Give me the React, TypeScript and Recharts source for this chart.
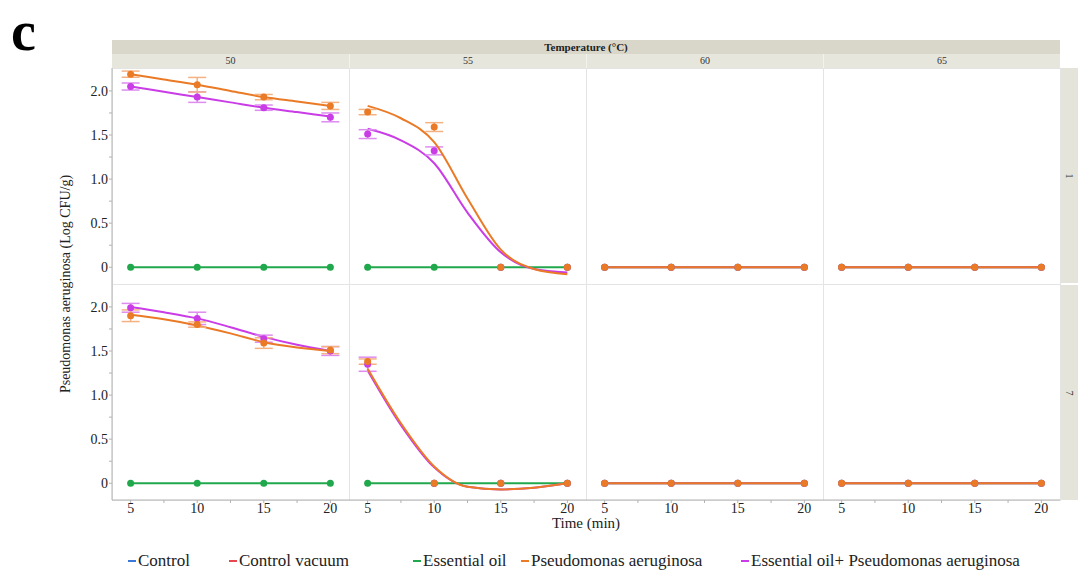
import React from 'react';
import { ComposedChart, Line, Scatter, ErrorBar, XAxis, YAxis } from 'recharts';

const temps = ['50', '55', '60', '65'];
const storageDays = ['1', '7'];
const times = [5, 10, 15, 20];
const fitTimes = [5, 7.5, 10, 12.5, 15, 17.5, 20];
const xTicks = [5, 7.5, 10, 12.5, 15, 17.5, 20];
const yTicks = [0, 0.25, 0.5, 0.75, 1, 1.25, 1.5, 1.75, 2];

// observed means and error, one row per temperature (50, 55, 60, 65)
const paMeanDay1 = [[2.19, 2.07, 1.93, 1.83], [1.76, 1.59, 0, 0], [0, 0, 0, 0], [0, 0, 0, 0]];
const paErrDay1 = [[0.035, 0.083, 0.03, 0.04], [0.03, 0.05, 0, 0], [0, 0, 0, 0], [0, 0, 0, 0]];
const eoPaMeanDay1 = [[2.05, 1.93, 1.81, 1.7], [1.51, 1.32, 0, 0], [0, 0, 0, 0], [0, 0, 0, 0]];
const eoPaErrDay1 = [[0.04, 0.06, 0.03, 0.05], [0.05, 0.045, 0, 0], [0, 0, 0, 0], [0, 0, 0, 0]];

const paMeanDay7 = [[1.9, 1.8, 1.59, 1.51], [1.38, 0, 0, 0], [0, 0, 0, 0], [0, 0, 0, 0]];
const paErrDay7 = [[0.066, 0.03, 0.06, 0.04], [0.03, 0, 0, 0], [0, 0, 0, 0], [0, 0, 0, 0]];
const eoPaMeanDay7 = [[1.99, 1.87, 1.64, 1.5], [1.35, 0, 0, 0], [0, 0, 0, 0], [0, 0, 0, 0]];
const eoPaErrDay7 = [[0.05, 0.07, 0.04, 0.05], [0.08, 0, 0, 0], [0, 0, 0, 0], [0, 0, 0, 0]];

const eoMean = [0, 0, 0, 0];

// fitted curves read at fitTimes
const paFitDay1 = [
  [2.19, 2.13, 2.07, 2.0, 1.93, 1.88, 1.83],
  [1.83, 1.69, 1.42, 0.78, 0.2, -0.02, -0.08],
  [0, 0, 0, 0, 0, 0, 0],
  [0, 0, 0, 0, 0, 0, 0],
];
const eoPaFitDay1 = [
  [2.05, 1.99, 1.93, 1.87, 1.81, 1.76, 1.71],
  [1.57, 1.44, 1.18, 0.62, 0.17, -0.02, -0.06],
  [0, 0, 0, 0, 0, 0, 0],
  [0, 0, 0, 0, 0, 0, 0],
];
const paFitDay7 = [
  [1.91, 1.86, 1.79, 1.7, 1.6, 1.54, 1.5],
  [1.3, 0.68, 0.19, -0.04, -0.07, -0.05, 0],
  [0, 0, 0, 0, 0, 0, 0],
  [0, 0, 0, 0, 0, 0, 0],
];
const eoPaFitDay7 = [
  [2.0, 1.94, 1.87, 1.77, 1.66, 1.57, 1.5],
  [1.28, 0.66, 0.18, -0.04, -0.07, -0.05, 0],
  [0, 0, 0, 0, 0, 0, 0],
  [0, 0, 0, 0, 0, 0, 0],
];
const eoFit = [0, 0, 0, 0, 0, 0, 0];

const legendNames = ['Control', 'Control vacuum', 'Essential oil', 'Pseudomonas aeruginosa', 'Essential oil+ Pseudomonas aeruginosa'];
const legendColors = ['#3b78d8', '#e8474f', '#20a84c', '#ea7a26', '#c93ce6'];
const legendLeft = [128, 229, 413, 521, 741];

const ORANGE = '#ea7a26';
const ORANGE_LIGHT = '#f4b283';
const PURPLE = '#c93ce6';
const PURPLE_LIGHT = '#de8cf0';
const GREEN = '#20a84c';
const GREEN_LIGHT = '#8fd6a5';

const SERIF = '"Liberation Serif", "Times New Roman", serif';
const PLOT_LEFT = 112;
const PLOT_TOP = 68;
const PANEL_W = 237;
const PANEL_H = 216;
const Y_AXIS_W = 44;
const X_AXIS_H = 30;
const X_DOMAIN = [3.6, 21.4];
const Y_DOMAIN = [-0.19, 2.26];

const dot = (color: string) => (p: any) => <circle cx={p.cx} cy={p.cy} r={3.5} fill={color} />;

function Panel({ row, col }: { row: number; col: number }) {
  const showY = col === 0;
  const showX = row === 1;
  const w = PANEL_W + (showY ? Y_AXIS_W : 0);
  const h = PANEL_H + (showX ? X_AXIS_H : 0);
  const left = PLOT_LEFT + col * PANEL_W - (showY ? Y_AXIS_W : 0);
  const top = PLOT_TOP + row * PANEL_H;

  const paMean = (row === 0 ? paMeanDay1 : paMeanDay7)[col];
  const paErr = (row === 0 ? paErrDay1 : paErrDay7)[col];
  const eoPaMean = (row === 0 ? eoPaMeanDay1 : eoPaMeanDay7)[col];
  const eoPaErr = (row === 0 ? eoPaErrDay1 : eoPaErrDay7)[col];
  const paFit = (row === 0 ? paFitDay1 : paFitDay7)[col];
  const eoPaFit = (row === 0 ? eoPaFitDay1 : eoPaFitDay7)[col];

  const pts = (m: number[], e: number[]) => times.map((t, i) => ({ x: t, y: m[i], err: e[i] }));
  const fit = (f: number[]) => fitTimes.map((t, i) => ({ x: t, y: f[i] }));

  const tickStyle = { fontFamily: SERIF, fontSize: 14, fill: '#222' };

  return (
    <div style={{ position: 'absolute', left, top }}>
      <ComposedChart width={w} height={h} margin={{ top: 0, right: 0, bottom: 0, left: 0 }}>
        <XAxis
          type="number"
          dataKey="x"
          domain={X_DOMAIN}
          allowDataOverflow
          ticks={xTicks}
          interval={0}
          hide={!showX}
          height={X_AXIS_H}
          tickFormatter={(v) => (Number.isInteger(v) ? String(v) : '')}
          tick={tickStyle}
          tickSize={3}
          tickMargin={0}
          axisLine={{ stroke: '#b3b3b3' }}
          tickLine={{ stroke: '#b3b3b3' }}
        />
        <YAxis
          type="number"
          dataKey="y"
          domain={Y_DOMAIN}
          allowDataOverflow
          ticks={yTicks}
          interval={0}
          hide={!showY}
          width={Y_AXIS_W}
          tickFormatter={(v) => (v === 0 ? '0' : v * 4 % 2 === 0 ? v.toFixed(1) : '')}
          tick={tickStyle}
          tickSize={3}
          tickMargin={1}
          axisLine={{ stroke: '#b3b3b3' }}
          tickLine={{ stroke: '#b3b3b3' }}
        />
        <Line data={fit(eoFit)} dataKey="y" type="monotone" stroke={GREEN} strokeWidth={2} dot={false} isAnimationActive={false} />
        <Scatter data={pts(eoMean, eoMean)} dataKey="y" shape={dot(GREEN)} isAnimationActive={false}>
          <ErrorBar dataKey="err" direction="y" width={9} stroke={GREEN_LIGHT} strokeWidth={1.2} />
        </Scatter>
        <Line data={fit(eoPaFit)} dataKey="y" type="monotone" stroke={PURPLE} strokeWidth={2} dot={false} isAnimationActive={false} />
        <Scatter data={pts(eoPaMean, eoPaErr)} dataKey="y" shape={dot(PURPLE)} isAnimationActive={false}>
          <ErrorBar dataKey="err" direction="y" width={9} stroke={PURPLE_LIGHT} strokeWidth={1.5} />
        </Scatter>
        <Line data={fit(paFit)} dataKey="y" type="monotone" stroke={ORANGE} strokeWidth={2} dot={false} isAnimationActive={false} />
        <Scatter data={pts(paMean, paErr)} dataKey="y" shape={dot(ORANGE)} isAnimationActive={false}>
          <ErrorBar dataKey="err" direction="y" width={9} stroke={ORANGE_LIGHT} strokeWidth={1.5} />
        </Scatter>
      </ComposedChart>
    </div>
  );
}

export default function App() {
  const plotW = PANEL_W * temps.length;
  const plotH = PANEL_H * storageDays.length;
  return (
    <div style={{ position: 'absolute', left: 0, top: 0, width: 1078, height: 572, background: '#fff', overflow: 'hidden', fontFamily: SERIF, color: '#222' }}>
      <div style={{ position: 'absolute', left: 11, top: 0, fontSize: 56, fontWeight: 'bold', lineHeight: '62px', color: '#000' }}>c</div>

      {/* strip headers */}
      <div style={{ position: 'absolute', left: PLOT_LEFT, top: 40, width: plotW, height: 14, background: '#d9d7c9', fontSize: 11, fontWeight: 'bold', textAlign: 'center', lineHeight: '14px' }}>
        Temperature (°C)
      </div>
      {temps.map((t, i) => (
        <div
          key={t}
          style={{
            position: 'absolute',
            left: PLOT_LEFT + i * PANEL_W,
            top: 54,
            width: PANEL_W,
            height: 14,
            background: '#e7e6dd',
            borderLeft: i ? '1px solid #f3f2ec' : 'none',
            boxSizing: 'border-box',
            fontSize: 10,
            textAlign: 'center',
            lineHeight: '14px',
            color: '#333',
          }}
        >
          {t}
        </div>
      ))}
      {storageDays.map((d, i) => (
        <div
          key={d}
          style={{
            position: 'absolute',
            left: PLOT_LEFT + plotW + 1,
            top: PLOT_TOP + i * PANEL_H + (i ? 1 : 0),
            width: 17,
            height: PANEL_H - 1,
            background: '#e5e4db',
          }}
        >
          <div style={{ position: 'absolute', left: 0, top: PANEL_H / 2 - 8, width: 16, height: 16, fontSize: 10, lineHeight: '16px', textAlign: 'center', transform: 'rotate(90deg)', color: '#333' }}>
            {d}
          </div>
        </div>
      ))}

      {/* panel frames */}
      {storageDays.map((d, r) =>
        temps.map((t, c) => (
          <div
            key={d + t}
            style={{
              position: 'absolute',
              left: PLOT_LEFT + c * PANEL_W,
              top: PLOT_TOP + r * PANEL_H,
              width: PANEL_W + 1,
              height: PANEL_H + 1,
              border: '1px solid #e4e4e4',
              boxSizing: 'border-box',
            }}
          />
        ))
      )}

      {storageDays.map((d, r) => temps.map((t, c) => <Panel key={'p' + d + t} row={r} col={c} />))}

      <div style={{ position: 'absolute', left: 66, top: PLOT_TOP + plotH / 2, width: 0, height: 0 }}>
        <div style={{ position: 'absolute', left: -200, top: -9, width: 400, textAlign: 'center', fontSize: 14, lineHeight: '18px', transform: 'rotate(-90deg)', whiteSpace: 'nowrap' }}>
          Pseudomonas aeruginosa (Log CFU/g)
        </div>
      </div>
      <div style={{ position: 'absolute', left: PLOT_LEFT, top: 514, width: plotW, textAlign: 'center', fontSize: 15, lineHeight: '18px' }}>
        Time (min)
      </div>

      {legendNames.map((n, i) => (
        <div key={n} style={{ position: 'absolute', left: legendLeft[i], top: 551, height: 20, display: 'flex', alignItems: 'center', fontSize: 17, lineHeight: '20px', whiteSpace: 'nowrap' }}>
          <span style={{ display: 'inline-block', width: 8, height: 2, background: legendColors[i], marginRight: 2 }} />
          {n}
        </div>
      ))}
    </div>
  );
}
